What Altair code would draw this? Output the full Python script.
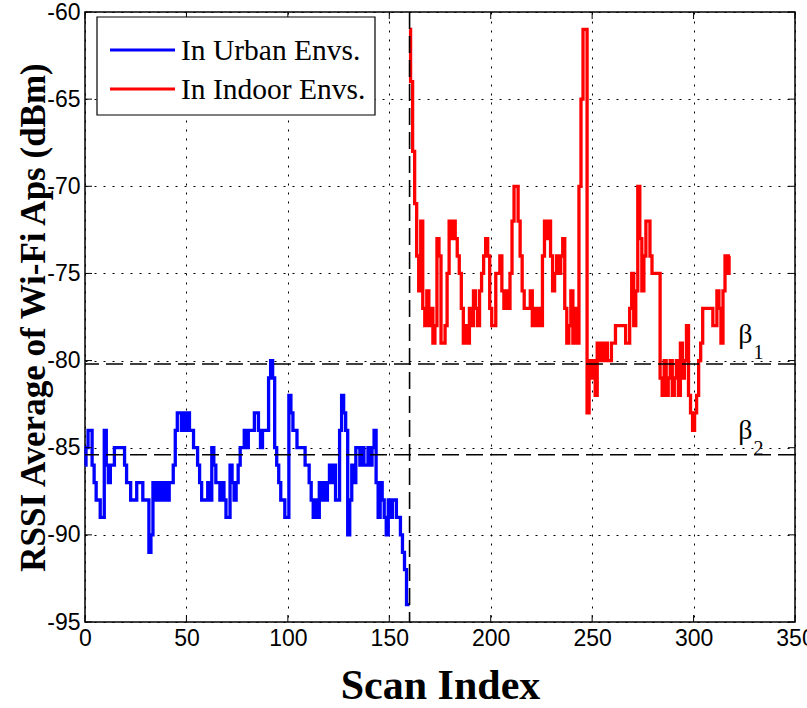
import altair as alt
import pandas as pd

# ---------------- data ----------------
urban_x = list(range(0, 161))
urban_y = [
    -86, -85, -84, -84, -86, -87, -88, -88, -89, -89,
    -84, -86, -87, -86, -86, -85, -85, -85, -85, -85,
    -86, -87, -87, -88, -88, -88, -87, -87, -87, -88,
    -88, -88, -91, -90, -87, -88, -87, -88, -87, -88,
    -87, -88, -87, -87, -86, -84, -83, -83, -84, -83,
    -84, -83, -84, -84, -85, -85, -86, -87, -88, -88,
    -88, -87, -88, -85, -86, -87, -87, -88, -87, -88,
    -89, -89, -86, -87, -88, -87, -86, -85, -85, -84,
    -85, -84, -84, -84, -83, -83, -84, -85, -84, -84,
    -84, -81, -80, -81, -85, -86, -87, -88, -88, -89,
    -89, -82, -83, -84, -84, -85, -85, -85, -85, -86,
    -86, -87, -88, -89, -88, -89, -87, -88, -87, -88,
    -87, -86, -87, -86, -88, -88, -84, -82, -83, -84,
    -90, -88, -86, -87, -85, -85, -86, -85, -86, -86,
    -85, -86, -85, -84, -87, -89, -87, -88, -89, -90,
    -88, -89, -88, -88, -89, -89, -90, -91, -92, -94,
    -94,
]
indoor_x = list(range(160, 319))
indoor_y = [
    -61, -64, -68, -71, -74, -76, -72, -77, -78, -76,
    -78, -77, -79, -78, -73, -74, -79, -79, -78, -75,
    -72, -73, -72, -73, -74, -75, -77, -79, -78, -79,
    -77, -78, -76, -77, -78, -76, -75, -74, -73, -74,
    -77, -78, -78, -75, -75, -74, -76, -77, -76, -77,
    -75, -72, -70, -70, -72, -74, -76, -77, -77, -77,
    -76, -78, -77, -78, -77, -78, -74, -72, -73, -72,
    -74, -76, -75, -74, -75, -74, -73, -77, -79, -78,
    -76, -79, -77, -79, -70, -65, -61, -61, -83, -80,
    -81, -80, -82, -79, -80, -79, -80, -79, -80, -80,
    -79, -79, -78, -78, -78, -78, -78, -79, -79, -77,
    -75, -78, -76, -70, -73, -76, -74, -72, -72, -74,
    -75, -75, -75, -75, -81, -82, -80, -82, -81, -80,
    -82, -81, -80, -82, -79, -81, -80, -78, -82, -83,
    -84, -83, -82, -80, -79, -77, -77, -77, -77, -77,
    -78, -78, -76, -77, -79, -76, -74, -75, -74,
]
series_names = ["In Urban Envs.", "In Indoor Envs."]
series_colors = ["#0000FF", "#FF0000"]

thresholds = [-80.2, -85.4]          # beta_1, beta_2 dashed lines
split_index = [160]                  # vertical dashed line
beta_text = ["\u03b2", "\u03b2"]
beta_x = [325.5, 325.5]
beta_y = [-79.0, -84.5]
sub_text = ["1", "2"]
sub_x = [332.0, 332.0]
sub_y = [-79.9, -85.4]

x_ticks = [0, 50, 100, 150, 200, 250, 300, 350]
y_ticks = [-95, -90, -85, -80, -75, -70, -65, -60]

# ---------------- tables ----------------
lines_df = pd.concat([
    pd.DataFrame({"idx": urban_x, "rssi": urban_y, "env": series_names[0]}),
    pd.DataFrame({"idx": indoor_x, "rssi": indoor_y, "env": series_names[1]}),
], ignore_index=True)
thr_df = pd.DataFrame({"v": thresholds})
split_df = pd.DataFrame({"v": split_index})
beta_df = pd.DataFrame({"t": beta_text, "x": beta_x, "y": beta_y})
sub_df = pd.DataFrame({"t": sub_text, "x": sub_x, "y": sub_y})
xt_df = pd.DataFrame({"v": x_ticks})
yt_df = pd.DataFrame({"v": y_ticks})
one_df = pd.DataFrame({"k": [0]})

W, H = 710, 610
SERIF = "Liberation Serif"
SANS = "'Liberation Sans Narrow', 'Liberation Sans', Arial, sans-serif"

xscale = alt.Scale(domain=[0, 350], nice=False, zero=False)
yscale = alt.Scale(domain=[-95, -60], nice=False, zero=False)

x_axis = alt.Axis(
    values=x_ticks, title="Scan Index", grid=True, ticks=False, domain=False,
    labelFont=SANS, labelFontSize=23, labelColor="black", labelPadding=5,
    labelFlush=False, labelExpr="'' + datum.value",
    titleFont=SERIF, titleFontWeight="bold", titleFontSize=42, titleColor="black",
    titleY=76, titleBaseline="alphabetic",
)
y_axis = alt.Axis(
    values=y_ticks, title="RSSI Average of Wi-Fi Aps (dBm)", grid=True, ticks=False,
    domain=False, labelFont=SANS, labelFontSize=23, labelColor="black", labelPadding=5,
    labelFlush=False, labelExpr="'' + datum.value",
    titleFont=SERIF, titleFontWeight="bold", titleFontSize=35, titleColor="black",
    titleX=-52, titleBaseline="middle",
)

lines = alt.Chart(lines_df).mark_line(strokeWidth=3.3, interpolate="step").encode(
    x=alt.X("idx:Q", scale=xscale, axis=x_axis),
    y=alt.Y("rssi:Q", scale=yscale, axis=y_axis),
    color=alt.Color("env:N",
                    scale=alt.Scale(domain=series_names, range=series_colors),
                    legend=None),
    order="idx:Q",
)

hrules = alt.Chart(thr_df).mark_rule(color="black", strokeWidth=1.6, strokeDash=[17, 7]).encode(
    y=alt.Y("v:Q", scale=yscale)
)
vrule = alt.Chart(split_df).mark_rule(color="black", strokeWidth=1.6, strokeDash=[17, 7]).encode(
    x=alt.X("v:Q", scale=xscale)
)

tick_b = alt.Chart(xt_df).mark_rule(color="black", strokeWidth=1).encode(
    x=alt.X("v:Q", scale=xscale), y=alt.value(H), y2=alt.value(H - 7))
tick_t = alt.Chart(xt_df).mark_rule(color="black", strokeWidth=1).encode(
    x=alt.X("v:Q", scale=xscale), y=alt.value(0), y2=alt.value(7))
tick_l = alt.Chart(yt_df).mark_rule(color="black", strokeWidth=1).encode(
    y=alt.Y("v:Q", scale=yscale), x=alt.value(0), x2=alt.value(7))
tick_r = alt.Chart(yt_df).mark_rule(color="black", strokeWidth=1).encode(
    y=alt.Y("v:Q", scale=yscale), x=alt.value(W), x2=alt.value(W - 7))

beta = alt.Chart(beta_df).mark_text(font=SERIF, fontSize=28, color="black",
                                    align="center", baseline="alphabetic").encode(
    x=alt.X("x:Q", scale=xscale), y=alt.Y("y:Q", scale=yscale), text="t:N")
sub = alt.Chart(sub_df).mark_text(font=SERIF, fontSize=20, color="black",
                                  align="center", baseline="alphabetic").encode(
    x=alt.X("x:Q", scale=xscale), y=alt.Y("y:Q", scale=yscale), text="t:N")

# ---------------- legend (drawn as a boxed key) ----------------
legend_box = alt.Chart(one_df).mark_rect(fill="white", stroke="black", strokeWidth=1.2).encode(
    x=alt.value(12), x2=alt.value(290), y=alt.value(5), y2=alt.value(103))
legend_layers = [legend_box]
row_y = [38, 77]
for name, col, ry in zip(series_names, series_colors, row_y):
    legend_layers.append(
        alt.Chart(one_df).mark_rule(color=col, strokeWidth=3).encode(
            x=alt.value(25), x2=alt.value(90), y=alt.value(ry)))
    legend_layers.append(
        alt.Chart(one_df).mark_text(text=name, font=SERIF, fontSize=29.5, color="black",
                                    align="left", baseline="middle").encode(
            x=alt.value(96), y=alt.value(ry + 1)))

chart = alt.layer(
    lines, hrules, vrule, tick_b, tick_t, tick_l, tick_r, beta, sub, *legend_layers
).properties(
    width=W, height=H,
    autosize=alt.AutoSizeParams(type="none"),
    padding={"left": 85, "top": 12, "right": 12, "bottom": 86},
    background="white",
).configure_view(
    stroke="black", strokeWidth=1.5
).configure_axis(
    gridColor="black", gridDash=[2, 7], gridWidth=1, gridOpacity=1,
)

chart.save("out.html", embed_options={"renderer": "svg", "actions": False})
